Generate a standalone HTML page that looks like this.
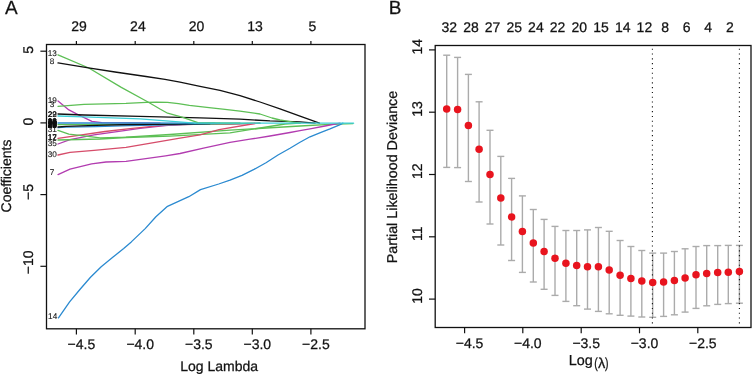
<!DOCTYPE html>
<html><head><meta charset="utf-8"><style>
html,body{margin:0;padding:0;background:#fff;}
body{width:752px;height:375px;overflow:hidden;position:relative;}
svg text{font-family:"Liberation Sans", sans-serif;text-rendering:geometricPrecision;stroke:#111;stroke-width:0.25px;paint-order:stroke;}
</style></head><body>
<svg width="752" height="375" viewBox="0 0 752 375" style="position:absolute;left:0;top:0;will-change:transform">
<defs><clipPath id="ca"><rect x="46.5" y="44.5" width="318.5" height="284.3"/></clipPath></defs>
<g clip-path="url(#ca)">
<polyline points="58,101 68.9,109.9 78,114.6 91.9,121.3 101.8,122.7 160,123.2" fill="none" stroke="#B23CB0" stroke-width="1.3" stroke-linejoin="round" stroke-linecap="round"/>
<polyline points="58,144 70,139.6 94,134.8 126,130.3 140,128.4 165,125.6 186,124.2 230,124 260,123.2" fill="none" stroke="#B23CB0" stroke-width="1.3" stroke-linejoin="round" stroke-linecap="round"/>
<polyline points="58,138.4 105,131.5 130,128.7 160,125.7 200,124 240,123.5" fill="none" stroke="#D64C6A" stroke-width="1.3" stroke-linejoin="round" stroke-linecap="round"/>
<polyline points="58,124.6 100,124.4 206,124 260,123.2" fill="none" stroke="#5DBF55" stroke-width="1.3" stroke-linejoin="round" stroke-linecap="round"/>
<polyline points="58,127.7 66,127.2 96,126.6 130,125.7 180,124.5 220,123.4" fill="none" stroke="#2B8AD0" stroke-width="1.3" stroke-linejoin="round" stroke-linecap="round"/>
<polyline points="58,127 66,126.4 96,125.4 130,124.5 180,124.1 210,123.5" fill="none" stroke="#111111" stroke-width="1.3" stroke-linejoin="round" stroke-linecap="round"/>
<polyline points="58,123 130,123 200,123.2 215,123.2" fill="none" stroke="#2B8AD0" stroke-width="1.3" stroke-linejoin="round" stroke-linecap="round"/>
<polyline points="58,116 84,116.9 126,118.3 140,118.8 195,123.2" fill="none" stroke="#3CCFD8" stroke-width="1.3" stroke-linejoin="round" stroke-linecap="round"/>
<polyline points="58,114 84,115 140,116.4 200,117.8 240,119.2 270,120.9 300,121.9 315,123.2" fill="none" stroke="#111111" stroke-width="1.3" stroke-linejoin="round" stroke-linecap="round"/>
<polyline points="58,106.3 84,104.3 126,103.4 146.4,102.4 156.5,102.1 167.5,102.3 178.4,103.6 189.4,105.3 200.3,106.6 211.3,107.8 225,109.3 240,111.2 260,114 272,118 280,120 290,121.7 300,123.2" fill="none" stroke="#5DBF55" stroke-width="1.3" stroke-linejoin="round" stroke-linecap="round"/>
<polyline points="58,54.8 88.8,68 121.3,87.4 148,102 160,109 167.6,113.2 182,117.2 197.9,122.7 240,123.2" fill="none" stroke="#5DBF55" stroke-width="1.3" stroke-linejoin="round" stroke-linecap="round"/>
<polyline points="58,62.9 88.4,67.9 115,72 146,76.5 165,79.3 180,82.2 200,86.4 220,90.4 240,95.6 260,102 280,108.8 300,116.2 319.5,123.2" fill="none" stroke="#111111" stroke-width="1.3" stroke-linejoin="round" stroke-linecap="round"/>
<polyline points="58,130.3 68.8,134.2 82,135.6 100,137.8 126,137.2 170,134.5 230,130.2 300,126 330,124.4 353,123.6" fill="none" stroke="#5DBF55" stroke-width="1.3" stroke-linejoin="round" stroke-linecap="round"/>
<polyline points="58,140 100,139 126,137.5 170,136.1 230,132.9 285,124 300,123.2" fill="none" stroke="#5DBF55" stroke-width="1.3" stroke-linejoin="round" stroke-linecap="round"/>
<polyline points="58,155 70,152.4 94,150.4 126,147.4 180,138.1 200,134.8 219,129.6 255,123.5" fill="none" stroke="#D64C6A" stroke-width="1.3" stroke-linejoin="round" stroke-linecap="round"/>
<polyline points="58,174.6 70,169.2 91.6,163.8 106,162 126,161.4 165.6,155.8 180,153.5 203.5,148.1 230,142.4 250,139.2 270,136 290,132.5 300,130.6 310,128.8 325,126 340,123.2" fill="none" stroke="#B23CB0" stroke-width="1.3" stroke-linejoin="round" stroke-linecap="round"/>
<polyline points="58.5,317.9 69.6,301.9 79.9,289.5 90.5,277.3 101.2,266.7 112.75,257.3 123.7,248.5 131.3,241.9 145.2,228.6 155.9,216.7 167.5,206.3 188.8,196.7 200.5,189.6 218.7,184 230,180.2 242,175.4 254,169.4 266,162.8 278,155 290,148.2 300,142.2 310,136.8 320.4,132.6 330,128.9 339.6,124.8 343,123.2" fill="none" stroke="#2B8AD0" stroke-width="1.3" stroke-linejoin="round" stroke-linecap="round"/>
<polyline points="195,123.2 353.6,123.2" fill="none" stroke="#3CCFD8" stroke-width="1.3" stroke-linejoin="round" stroke-linecap="round"/>
</g>
<rect x="46.5" y="44.5" width="318.5" height="284.3" fill="none" stroke="#111111" stroke-width="1.3"/>
<line x1="76.4" y1="328.8" x2="76.4" y2="334.4" stroke="#111111" stroke-width="1.2"/>
<text x="81.4" y="349.4" font-size="14" text-anchor="middle" fill="#111111">−4.5</text>
<line x1="135.2" y1="328.8" x2="135.2" y2="334.4" stroke="#111111" stroke-width="1.2"/>
<text x="140.2" y="349.4" font-size="14" text-anchor="middle" fill="#111111">−4.0</text>
<line x1="193.8" y1="328.8" x2="193.8" y2="334.4" stroke="#111111" stroke-width="1.2"/>
<text x="198.8" y="349.4" font-size="14" text-anchor="middle" fill="#111111">−3.5</text>
<line x1="252.3" y1="328.8" x2="252.3" y2="334.4" stroke="#111111" stroke-width="1.2"/>
<text x="257.3" y="349.4" font-size="14" text-anchor="middle" fill="#111111">−3.0</text>
<line x1="310.9" y1="328.8" x2="310.9" y2="334.4" stroke="#111111" stroke-width="1.2"/>
<text x="315.9" y="349.4" font-size="14" text-anchor="middle" fill="#111111">−2.5</text>
<line x1="76.4" y1="44.5" x2="76.4" y2="40.9" stroke="#111111" stroke-width="1.2"/>
<text x="79.1" y="30.5" font-size="14" text-anchor="middle" fill="#111111">29</text>
<line x1="135.2" y1="44.5" x2="135.2" y2="40.9" stroke="#111111" stroke-width="1.2"/>
<text x="137.9" y="30.5" font-size="14" text-anchor="middle" fill="#111111">24</text>
<line x1="193.8" y1="44.5" x2="193.8" y2="40.9" stroke="#111111" stroke-width="1.2"/>
<text x="196.5" y="30.5" font-size="14" text-anchor="middle" fill="#111111">20</text>
<line x1="252.3" y1="44.5" x2="252.3" y2="40.9" stroke="#111111" stroke-width="1.2"/>
<text x="255" y="30.5" font-size="14" text-anchor="middle" fill="#111111">13</text>
<line x1="310.9" y1="44.5" x2="310.9" y2="40.9" stroke="#111111" stroke-width="1.2"/>
<text x="312.5" y="30.5" font-size="14" text-anchor="middle" fill="#111111">5</text>
<line x1="40.4" y1="51.2" x2="46.5" y2="51.2" stroke="#111111" stroke-width="1.2"/>
<text x="33.3" y="49.9" font-size="14" text-anchor="middle" fill="#111111" transform="rotate(-90 33.3 49.9)">5</text>
<line x1="40.4" y1="122.9" x2="46.5" y2="122.9" stroke="#111111" stroke-width="1.2"/>
<text x="33.3" y="121.7" font-size="14" text-anchor="middle" fill="#111111" transform="rotate(-90 33.3 121.7)">0</text>
<line x1="40.4" y1="194.6" x2="46.5" y2="194.6" stroke="#111111" stroke-width="1.2"/>
<text x="33.3" y="191.9" font-size="14" text-anchor="middle" fill="#111111" transform="rotate(-90 33.3 191.9)">−5</text>
<line x1="40.4" y1="266.3" x2="46.5" y2="266.3" stroke="#111111" stroke-width="1.2"/>
<text x="33.3" y="262.3" font-size="14" text-anchor="middle" fill="#111111" transform="rotate(-90 33.3 262.3)">−10</text>
<text x="10.7" y="176" font-size="14" text-anchor="middle" fill="#111111" transform="rotate(-90 10.7 176)">Coefficients</text>
<text x="180.3" y="370.9" font-size="14" text-anchor="start" fill="#111111">Log Lambda</text>
<text x="5" y="13.9" font-size="19" text-anchor="start" fill="#111111">A</text>
<text x="56.8" y="56" font-size="8.2" text-anchor="end" fill="#111111" style="stroke-width:0.1px">13</text>
<text x="54.2" y="63.7" font-size="8.2" text-anchor="end" fill="#111111" style="stroke-width:0.1px">8</text>
<text x="56.8" y="102.5" font-size="8.2" text-anchor="end" fill="#111111" style="stroke-width:0.1px">19</text>
<text x="54.2" y="107.2" font-size="8.2" text-anchor="end" fill="#111111" style="stroke-width:0.1px">3</text>
<text x="56.8" y="116.5" font-size="8.2" text-anchor="end" fill="#111111" style="stroke-width:0.1px">29</text>
<text x="56.8" y="116.5" font-size="8.2" text-anchor="end" fill="#111111" style="stroke-width:0.1px">22</text>
<text x="56.8" y="123.8" font-size="8.2" text-anchor="end" fill="#111111" style="stroke-width:0.1px">18</text>
<text x="56.8" y="124.1" font-size="8.2" text-anchor="end" fill="#111111" style="stroke-width:0.1px">26</text>
<text x="56.8" y="124.4" font-size="8.2" text-anchor="end" fill="#111111" style="stroke-width:0.1px">33</text>
<text x="56.8" y="124.7" font-size="8.2" text-anchor="end" fill="#111111" style="stroke-width:0.1px">34</text>
<text x="56.8" y="125" font-size="8.2" text-anchor="end" fill="#111111" style="stroke-width:0.1px">10</text>
<text x="56.8" y="125.3" font-size="8.2" text-anchor="end" fill="#111111" style="stroke-width:0.1px">11</text>
<text x="56.8" y="125.6" font-size="8.2" text-anchor="end" fill="#111111" style="stroke-width:0.1px">16</text>
<text x="56.8" y="125.9" font-size="8.2" text-anchor="end" fill="#111111" style="stroke-width:0.1px">20</text>
<text x="56.8" y="126.2" font-size="8.2" text-anchor="end" fill="#111111" style="stroke-width:0.1px">21</text>
<text x="56.8" y="126.5" font-size="8.2" text-anchor="end" fill="#111111" style="stroke-width:0.1px">23</text>
<text x="56.8" y="126.8" font-size="8.2" text-anchor="end" fill="#111111" style="stroke-width:0.1px">25</text>
<text x="56.8" y="127.1" font-size="8.2" text-anchor="end" fill="#111111" style="stroke-width:0.1px">27</text>
<text x="56.8" y="127.4" font-size="8.2" text-anchor="end" fill="#111111" style="stroke-width:0.1px">28</text>
<text x="56.8" y="127.7" font-size="8.2" text-anchor="end" fill="#111111" style="stroke-width:0.1px">32</text>
<text x="56.8" y="128" font-size="8.2" text-anchor="end" fill="#111111" style="stroke-width:0.1px">15</text>
<text x="56.8" y="128.3" font-size="8.2" text-anchor="end" fill="#111111" style="stroke-width:0.1px">24</text>
<text x="56.8" y="131.8" font-size="8.2" text-anchor="end" fill="#111111" style="stroke-width:0.1px">31</text>
<text x="56.8" y="139.6" font-size="8.2" text-anchor="end" fill="#111111" style="stroke-width:0.1px">12</text>
<text x="56.8" y="139.6" font-size="8.2" text-anchor="end" fill="#111111" style="stroke-width:0.1px">17</text>
<text x="56.8" y="145.6" font-size="8.2" text-anchor="end" fill="#111111" style="stroke-width:0.1px">35</text>
<text x="56.8" y="156.6" font-size="8.2" text-anchor="end" fill="#111111" style="stroke-width:0.1px">30</text>
<text x="54.2" y="175.3" font-size="8.2" text-anchor="end" fill="#111111" style="stroke-width:0.1px">7</text>
<text x="57.2" y="319.3" font-size="8.2" text-anchor="end" fill="#111111" style="stroke-width:0.1px">14</text>
<line x1="446.7" y1="55.2" x2="446.7" y2="167.4" stroke="#ababab" stroke-width="1.4"/>
<line x1="443.2" y1="55.2" x2="450.2" y2="55.2" stroke="#ababab" stroke-width="1.4"/>
<line x1="443.2" y1="167.4" x2="450.2" y2="167.4" stroke="#ababab" stroke-width="1.4"/>
<line x1="457.6" y1="57.4" x2="457.6" y2="167.6" stroke="#ababab" stroke-width="1.4"/>
<line x1="454.1" y1="57.4" x2="461.1" y2="57.4" stroke="#ababab" stroke-width="1.4"/>
<line x1="454.1" y1="167.6" x2="461.1" y2="167.6" stroke="#ababab" stroke-width="1.4"/>
<line x1="468.4" y1="74.4" x2="468.4" y2="181.5" stroke="#ababab" stroke-width="1.4"/>
<line x1="464.9" y1="74.4" x2="471.9" y2="74.4" stroke="#ababab" stroke-width="1.4"/>
<line x1="464.9" y1="181.5" x2="471.9" y2="181.5" stroke="#ababab" stroke-width="1.4"/>
<line x1="479.1" y1="101.8" x2="479.1" y2="202" stroke="#ababab" stroke-width="1.4"/>
<line x1="475.6" y1="101.8" x2="482.6" y2="101.8" stroke="#ababab" stroke-width="1.4"/>
<line x1="475.6" y1="202" x2="482.6" y2="202" stroke="#ababab" stroke-width="1.4"/>
<line x1="490" y1="130.3" x2="490" y2="224" stroke="#ababab" stroke-width="1.4"/>
<line x1="486.5" y1="130.3" x2="493.5" y2="130.3" stroke="#ababab" stroke-width="1.4"/>
<line x1="486.5" y1="224" x2="493.5" y2="224" stroke="#ababab" stroke-width="1.4"/>
<line x1="500.8" y1="156.4" x2="500.8" y2="245" stroke="#ababab" stroke-width="1.4"/>
<line x1="497.3" y1="156.4" x2="504.3" y2="156.4" stroke="#ababab" stroke-width="1.4"/>
<line x1="497.3" y1="245" x2="504.3" y2="245" stroke="#ababab" stroke-width="1.4"/>
<line x1="511.6" y1="178.4" x2="511.6" y2="260.5" stroke="#ababab" stroke-width="1.4"/>
<line x1="508.1" y1="178.4" x2="515.1" y2="178.4" stroke="#ababab" stroke-width="1.4"/>
<line x1="508.1" y1="260.5" x2="515.1" y2="260.5" stroke="#ababab" stroke-width="1.4"/>
<line x1="522.4" y1="195.9" x2="522.4" y2="272.4" stroke="#ababab" stroke-width="1.4"/>
<line x1="518.9" y1="195.9" x2="525.9" y2="195.9" stroke="#ababab" stroke-width="1.4"/>
<line x1="518.9" y1="272.4" x2="525.9" y2="272.4" stroke="#ababab" stroke-width="1.4"/>
<line x1="533.3" y1="209.5" x2="533.3" y2="282" stroke="#ababab" stroke-width="1.4"/>
<line x1="529.8" y1="209.5" x2="536.8" y2="209.5" stroke="#ababab" stroke-width="1.4"/>
<line x1="529.8" y1="282" x2="536.8" y2="282" stroke="#ababab" stroke-width="1.4"/>
<line x1="544.1" y1="219.4" x2="544.1" y2="289.3" stroke="#ababab" stroke-width="1.4"/>
<line x1="540.6" y1="219.4" x2="547.6" y2="219.4" stroke="#ababab" stroke-width="1.4"/>
<line x1="540.6" y1="289.3" x2="547.6" y2="289.3" stroke="#ababab" stroke-width="1.4"/>
<line x1="555" y1="226.4" x2="555" y2="295.4" stroke="#ababab" stroke-width="1.4"/>
<line x1="551.5" y1="226.4" x2="558.5" y2="226.4" stroke="#ababab" stroke-width="1.4"/>
<line x1="551.5" y1="295.4" x2="558.5" y2="295.4" stroke="#ababab" stroke-width="1.4"/>
<line x1="565.9" y1="230.5" x2="565.9" y2="301.4" stroke="#ababab" stroke-width="1.4"/>
<line x1="562.4" y1="230.5" x2="569.4" y2="230.5" stroke="#ababab" stroke-width="1.4"/>
<line x1="562.4" y1="301.4" x2="569.4" y2="301.4" stroke="#ababab" stroke-width="1.4"/>
<line x1="576.7" y1="230.5" x2="576.7" y2="305.7" stroke="#ababab" stroke-width="1.4"/>
<line x1="573.2" y1="230.5" x2="580.2" y2="230.5" stroke="#ababab" stroke-width="1.4"/>
<line x1="573.2" y1="305.7" x2="580.2" y2="305.7" stroke="#ababab" stroke-width="1.4"/>
<line x1="587.5" y1="229.9" x2="587.5" y2="309.1" stroke="#ababab" stroke-width="1.4"/>
<line x1="584" y1="229.9" x2="591" y2="229.9" stroke="#ababab" stroke-width="1.4"/>
<line x1="584" y1="309.1" x2="591" y2="309.1" stroke="#ababab" stroke-width="1.4"/>
<line x1="598.4" y1="227.5" x2="598.4" y2="311.4" stroke="#ababab" stroke-width="1.4"/>
<line x1="594.9" y1="227.5" x2="601.9" y2="227.5" stroke="#ababab" stroke-width="1.4"/>
<line x1="594.9" y1="311.4" x2="601.9" y2="311.4" stroke="#ababab" stroke-width="1.4"/>
<line x1="609.2" y1="231.3" x2="609.2" y2="313.8" stroke="#ababab" stroke-width="1.4"/>
<line x1="605.7" y1="231.3" x2="612.7" y2="231.3" stroke="#ababab" stroke-width="1.4"/>
<line x1="605.7" y1="313.8" x2="612.7" y2="313.8" stroke="#ababab" stroke-width="1.4"/>
<line x1="620.1" y1="240.5" x2="620.1" y2="315.3" stroke="#ababab" stroke-width="1.4"/>
<line x1="616.6" y1="240.5" x2="623.6" y2="240.5" stroke="#ababab" stroke-width="1.4"/>
<line x1="616.6" y1="315.3" x2="623.6" y2="315.3" stroke="#ababab" stroke-width="1.4"/>
<line x1="630.9" y1="246.5" x2="630.9" y2="316.1" stroke="#ababab" stroke-width="1.4"/>
<line x1="627.4" y1="246.5" x2="634.4" y2="246.5" stroke="#ababab" stroke-width="1.4"/>
<line x1="627.4" y1="316.1" x2="634.4" y2="316.1" stroke="#ababab" stroke-width="1.4"/>
<line x1="641.8" y1="250.5" x2="641.8" y2="317" stroke="#ababab" stroke-width="1.4"/>
<line x1="638.3" y1="250.5" x2="645.3" y2="250.5" stroke="#ababab" stroke-width="1.4"/>
<line x1="638.3" y1="317" x2="645.3" y2="317" stroke="#ababab" stroke-width="1.4"/>
<line x1="652.7" y1="253.1" x2="652.7" y2="317.3" stroke="#ababab" stroke-width="1.4"/>
<line x1="649.2" y1="253.1" x2="656.2" y2="253.1" stroke="#ababab" stroke-width="1.4"/>
<line x1="649.2" y1="317.3" x2="656.2" y2="317.3" stroke="#ababab" stroke-width="1.4"/>
<line x1="663.6" y1="253.1" x2="663.6" y2="316.4" stroke="#ababab" stroke-width="1.4"/>
<line x1="660.1" y1="253.1" x2="667.1" y2="253.1" stroke="#ababab" stroke-width="1.4"/>
<line x1="660.1" y1="316.4" x2="667.1" y2="316.4" stroke="#ababab" stroke-width="1.4"/>
<line x1="674.4" y1="251.5" x2="674.4" y2="314.8" stroke="#ababab" stroke-width="1.4"/>
<line x1="670.9" y1="251.5" x2="677.9" y2="251.5" stroke="#ababab" stroke-width="1.4"/>
<line x1="670.9" y1="314.8" x2="677.9" y2="314.8" stroke="#ababab" stroke-width="1.4"/>
<line x1="685.1" y1="248.8" x2="685.1" y2="312.1" stroke="#ababab" stroke-width="1.4"/>
<line x1="681.6" y1="248.8" x2="688.6" y2="248.8" stroke="#ababab" stroke-width="1.4"/>
<line x1="681.6" y1="312.1" x2="688.6" y2="312.1" stroke="#ababab" stroke-width="1.4"/>
<line x1="696" y1="246.5" x2="696" y2="308.4" stroke="#ababab" stroke-width="1.4"/>
<line x1="692.5" y1="246.5" x2="699.5" y2="246.5" stroke="#ababab" stroke-width="1.4"/>
<line x1="692.5" y1="308.4" x2="699.5" y2="308.4" stroke="#ababab" stroke-width="1.4"/>
<line x1="706.7" y1="245.6" x2="706.7" y2="305.8" stroke="#ababab" stroke-width="1.4"/>
<line x1="703.2" y1="245.6" x2="710.2" y2="245.6" stroke="#ababab" stroke-width="1.4"/>
<line x1="703.2" y1="305.8" x2="710.2" y2="305.8" stroke="#ababab" stroke-width="1.4"/>
<line x1="717.7" y1="245.6" x2="717.7" y2="304.4" stroke="#ababab" stroke-width="1.4"/>
<line x1="714.2" y1="245.6" x2="721.2" y2="245.6" stroke="#ababab" stroke-width="1.4"/>
<line x1="714.2" y1="304.4" x2="721.2" y2="304.4" stroke="#ababab" stroke-width="1.4"/>
<line x1="728.3" y1="245.4" x2="728.3" y2="303.6" stroke="#ababab" stroke-width="1.4"/>
<line x1="724.8" y1="245.4" x2="731.8" y2="245.4" stroke="#ababab" stroke-width="1.4"/>
<line x1="724.8" y1="303.6" x2="731.8" y2="303.6" stroke="#ababab" stroke-width="1.4"/>
<line x1="739.4" y1="245.4" x2="739.4" y2="303.2" stroke="#ababab" stroke-width="1.4"/>
<line x1="735.9" y1="245.4" x2="742.9" y2="245.4" stroke="#ababab" stroke-width="1.4"/>
<line x1="735.9" y1="303.2" x2="742.9" y2="303.2" stroke="#ababab" stroke-width="1.4"/>
<line x1="652.4" y1="45.5" x2="652.4" y2="327.5" stroke="#111" stroke-width="1.1" stroke-dasharray="1.1 3.7" stroke-dashoffset="-3.2"/>
<line x1="739.4" y1="45.5" x2="739.4" y2="327.5" stroke="#111" stroke-width="1.1" stroke-dasharray="1.1 3.7" stroke-dashoffset="-3.2"/>
<circle cx="446.7" cy="109" r="3.75" fill="#E8141E"/>
<circle cx="457.6" cy="109.6" r="3.75" fill="#E8141E"/>
<circle cx="468.4" cy="125.5" r="3.75" fill="#E8141E"/>
<circle cx="479.1" cy="149.2" r="3.75" fill="#E8141E"/>
<circle cx="490" cy="174.5" r="3.75" fill="#E8141E"/>
<circle cx="500.8" cy="198.1" r="3.75" fill="#E8141E"/>
<circle cx="511.6" cy="217" r="3.75" fill="#E8141E"/>
<circle cx="522.4" cy="231.6" r="3.75" fill="#E8141E"/>
<circle cx="533.3" cy="243.1" r="3.75" fill="#E8141E"/>
<circle cx="544.1" cy="251.5" r="3.75" fill="#E8141E"/>
<circle cx="555" cy="258.2" r="3.75" fill="#E8141E"/>
<circle cx="565.9" cy="263.3" r="3.75" fill="#E8141E"/>
<circle cx="576.7" cy="265.5" r="3.75" fill="#E8141E"/>
<circle cx="587.5" cy="266.7" r="3.75" fill="#E8141E"/>
<circle cx="598.4" cy="266.8" r="3.75" fill="#E8141E"/>
<circle cx="609.2" cy="270" r="3.75" fill="#E8141E"/>
<circle cx="620.1" cy="275.3" r="3.75" fill="#E8141E"/>
<circle cx="630.9" cy="278.6" r="3.75" fill="#E8141E"/>
<circle cx="641.8" cy="281" r="3.75" fill="#E8141E"/>
<circle cx="652.7" cy="282.4" r="3.75" fill="#E8141E"/>
<circle cx="663.6" cy="282.1" r="3.75" fill="#E8141E"/>
<circle cx="674.4" cy="280.6" r="3.75" fill="#E8141E"/>
<circle cx="685.1" cy="277.9" r="3.75" fill="#E8141E"/>
<circle cx="696" cy="274.7" r="3.75" fill="#E8141E"/>
<circle cx="706.7" cy="273.4" r="3.75" fill="#E8141E"/>
<circle cx="717.7" cy="272.6" r="3.75" fill="#E8141E"/>
<circle cx="728.3" cy="272.2" r="3.75" fill="#E8141E"/>
<circle cx="739.4" cy="271.6" r="3.75" fill="#E8141E"/>
<rect x="435.2" y="45.5" width="315.8" height="282" fill="none" stroke="#111111" stroke-width="1.3"/>
<line x1="464.6" y1="327.5" x2="464.6" y2="333.3" stroke="#111111" stroke-width="1.2"/>
<text x="469.6" y="347.7" font-size="14" text-anchor="middle" fill="#111111">−4.5</text>
<line x1="522.8" y1="327.5" x2="522.8" y2="333.3" stroke="#111111" stroke-width="1.2"/>
<text x="527.8" y="347.7" font-size="14" text-anchor="middle" fill="#111111">−4.0</text>
<line x1="581.2" y1="327.5" x2="581.2" y2="333.3" stroke="#111111" stroke-width="1.2"/>
<text x="586.2" y="347.7" font-size="14" text-anchor="middle" fill="#111111">−3.5</text>
<line x1="639.5" y1="327.5" x2="639.5" y2="333.3" stroke="#111111" stroke-width="1.2"/>
<text x="644.5" y="347.7" font-size="14" text-anchor="middle" fill="#111111">−3.0</text>
<line x1="697.8" y1="327.5" x2="697.8" y2="333.3" stroke="#111111" stroke-width="1.2"/>
<text x="702.8" y="347.7" font-size="14" text-anchor="middle" fill="#111111">−2.5</text>
<text x="449.3" y="31.7" font-size="14" text-anchor="middle" fill="#111111">32</text>
<text x="471" y="31.7" font-size="14" text-anchor="middle" fill="#111111">28</text>
<text x="492.6" y="31.7" font-size="14" text-anchor="middle" fill="#111111">27</text>
<text x="514.2" y="31.7" font-size="14" text-anchor="middle" fill="#111111">25</text>
<text x="535.9" y="31.7" font-size="14" text-anchor="middle" fill="#111111">24</text>
<text x="557.6" y="31.7" font-size="14" text-anchor="middle" fill="#111111">22</text>
<text x="579.3" y="31.7" font-size="14" text-anchor="middle" fill="#111111">20</text>
<text x="601" y="31.7" font-size="14" text-anchor="middle" fill="#111111">15</text>
<text x="622.7" y="31.7" font-size="14" text-anchor="middle" fill="#111111">14</text>
<text x="644.4" y="31.7" font-size="14" text-anchor="middle" fill="#111111">12</text>
<text x="665.1" y="31.7" font-size="14" text-anchor="middle" fill="#111111">8</text>
<text x="686.6" y="31.7" font-size="14" text-anchor="middle" fill="#111111">6</text>
<text x="708.2" y="31.7" font-size="14" text-anchor="middle" fill="#111111">4</text>
<text x="729.8" y="31.7" font-size="14" text-anchor="middle" fill="#111111">2</text>
<line x1="429" y1="49.9" x2="435.2" y2="49.9" stroke="#111111" stroke-width="1.2"/>
<text x="421.9" y="46.7" font-size="14" text-anchor="middle" fill="#111111" transform="rotate(-90 421.9 46.7)">14</text>
<line x1="429" y1="112.2" x2="435.2" y2="112.2" stroke="#111111" stroke-width="1.2"/>
<text x="421.9" y="109" font-size="14" text-anchor="middle" fill="#111111" transform="rotate(-90 421.9 109)">13</text>
<line x1="429" y1="174.5" x2="435.2" y2="174.5" stroke="#111111" stroke-width="1.2"/>
<text x="421.9" y="171.3" font-size="14" text-anchor="middle" fill="#111111" transform="rotate(-90 421.9 171.3)">12</text>
<line x1="429" y1="236.8" x2="435.2" y2="236.8" stroke="#111111" stroke-width="1.2"/>
<text x="421.9" y="233.6" font-size="14" text-anchor="middle" fill="#111111" transform="rotate(-90 421.9 233.6)">11</text>
<line x1="429" y1="299.1" x2="435.2" y2="299.1" stroke="#111111" stroke-width="1.2"/>
<text x="421.9" y="295.9" font-size="14" text-anchor="middle" fill="#111111" transform="rotate(-90 421.9 295.9)">10</text>
<text x="396.7" y="177" font-size="14.3" text-anchor="middle" fill="#111111" transform="rotate(-90 396.7 177)">Partial Likelihood Deviance</text>
<text x="568.8" y="365.3" font-size="14.4" text-anchor="start" fill="#111111">Log</text>
<text x="594.15" y="368" font-size="14.6" text-anchor="start" fill="#111111" textLength="3.5" lengthAdjust="spacingAndGlyphs">(</text>
<text x="597.9" y="368.2" font-size="14.6" text-anchor="start" fill="#111111">λ</text>
<text x="605.1" y="368" font-size="14.6" text-anchor="start" fill="#111111" textLength="3.5" lengthAdjust="spacingAndGlyphs">)</text>
<text x="388.7" y="13.9" font-size="19" text-anchor="start" fill="#111111">B</text>
</svg>
</body></html>
